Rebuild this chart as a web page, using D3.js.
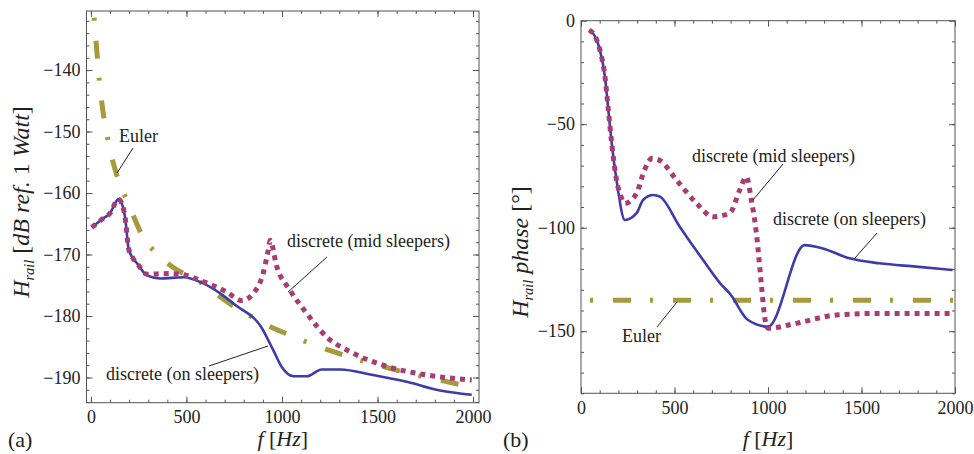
<!DOCTYPE html>
<html lang="en">

<head>
  <meta charset="utf-8">
  <title>Rail transfer function</title>
  <script src="https://d3js.org/d3.v7.min.js" charset="utf-8"></script>
  <style type="text/css">
    body { margin: 0; background: #fff; }
    .frame path, .frame line { stroke: #555; }
  </style>
</head>

<body>

  <svg id="chart"></svg>

  <script type="text/javascript">
    // (a) magnitude, dB
    const eulerMagF = [17, 30, 45, 60, 90, 140, 200, 270, 360, 450, 550, 650, 750, 850, 950, 1050, 1150, 1250, 1400, 1550, 1700, 1850, 2000];
    const eulerMagV = [-131.5, -136.5, -142, -146, -151.5, -157.5, -162, -167, -170.3, -172.5, -174, -176.3, -178.5, -180.3, -181.9, -183.2, -184.5, -185.6, -187.1, -188.4, -189.6, -190.6, -191.6];

    const onMagF = [5, 65, 100, 136, 143, 165, 180, 197, 220, 241, 293, 362, 484, 588, 680, 760, 891, 955, 999, 1060, 1130, 1208, 1304, 1477, 1653, 1827, 1993];
    const onMagV = [-165.6, -164.1, -163.3, -161.2, -161.0, -162.0, -164.2, -169.0, -170.6, -171.4, -173.4, -173.9, -173.7, -174.7, -176.4, -178.3, -181.8, -185.6, -188.3, -189.8, -189.8, -188.7, -188.7, -189.6, -190.7, -192.1, -192.8];

    const midMagF = [5, 65, 100, 136, 143, 165, 180, 197, 220, 241, 293, 415, 500, 572, 711, 790, 850, 902, 928, 938, 973, 1042, 1130, 1234, 1356, 1529, 1757, 1993];
    const midMagV = [-165.6, -164.1, -163.3, -161.2, -161.0, -162.0, -164.2, -169.0, -170.6, -171.4, -173.2, -173.1, -173.4, -174.2, -176.1, -177.5, -176.3, -173.0, -169.3, -167.7, -172.0, -175.8, -179.6, -183.4, -185.8, -188.0, -189.6, -190.4];

    // (b) phase, degrees
    const eulerPhF = [48, 2000];
    const eulerPhV = [-135, -135];

    const onPhF = [44, 84, 101, 128, 146, 164, 190, 235, 297, 332, 386, 422, 528, 653, 760, 795, 893, 1000, 1196, 1293, 1436, 1596, 1792, 1987];
    const onPhV = [-4.5, -9.3, -14.2, -27, -43, -59, -77, -96.3, -93, -86.6, -84.2, -85, -99.5, -115.6, -128.5, -131.7, -144.6, -147.8, -108.4, -110, -114.8, -117.2, -118.8, -120.4];

    const midPhF = [44, 84, 101, 128, 146, 164, 190, 210, 235, 297, 340, 380, 422, 511, 618, 706, 795, 849, 884, 911, 938, 964, 982, 1000, 1151, 1365, 1596, 1987];
    const midPhV = [-4.5, -9.3, -14.2, -27, -43, -59, -77, -84, -88.2, -83.4, -72, -66.5, -67.5, -77, -88.2, -94.7, -93, -81.8, -75.4, -86.6, -102.7, -126.9, -143, -148.6, -146.2, -142.2, -141.4, -141.4];

    const xTicks = [0, 500, 1000, 1500, 2000];
    const magTicks = [-190, -180, -170, -160, -150, -140];
    const phaseTicks = [-150, -100, -50, 0];

    const blue = "#3c3caa", purple = "#a83c74", olive = "#a69a3c";
    const serif = '"Liberation Serif", "Times New Roman", serif';

    const svg = d3.select("#chart").attr("width", 974).attr("height", 454);

    const zip = (fs, vs) => fs.map((f, i) => [f, vs[i]]);
    const fmt = d3.format("d");

    function panel(opt) {
      const x = d3.scaleLinear().domain(opt.xDomain).range([opt.left, opt.right]);
      const y = d3.scaleLinear().domain(opt.yDomain).range([opt.bottom, opt.top]);
      const w = opt.right - opt.left, h = opt.bottom - opt.top;
      const xMinor = d3.range(0, 2001, 100);
      const yMinor = d3.range(Math.ceil(opt.yDomain[0] / opt.yMinorStep) * opt.yMinorStep, opt.yDomain[1], opt.yMinorStep);

      const g = svg.append("g").attr("class", "frame");
      g.append("rect").attr("x", opt.left).attr("y", opt.top).attr("width", w).attr("height", h)
        .attr("fill", "none").attr("stroke", "#555");

      // major ticks with labels (left, bottom)
      g.append("g").attr("transform", `translate(${opt.left},0)`)
        .call(d3.axisLeft(y).tickValues(opt.yTicks).tickSize(-6).tickPadding(6).tickFormat(fmt))
        .call(a => a.select(".domain").remove());
      g.append("g").attr("transform", `translate(0,${opt.bottom})`)
        .call(d3.axisBottom(x).tickValues(xTicks).tickSize(-6).tickPadding(8).tickFormat(fmt))
        .call(a => a.select(".domain").remove());
      // mirrored ticks (right, top)
      g.append("g").attr("transform", `translate(${opt.right},0)`)
        .call(d3.axisRight(y).tickValues(opt.yTicks).tickSize(-6).tickFormat(""))
        .call(a => a.select(".domain").remove());
      g.append("g").attr("transform", `translate(0,${opt.top})`)
        .call(d3.axisTop(x).tickValues(xTicks).tickSize(-6).tickFormat(""))
        .call(a => a.select(".domain").remove());
      // minor ticks
      g.append("g").attr("transform", `translate(${opt.left},0)`)
        .call(d3.axisLeft(y).tickValues(yMinor).tickSize(-3).tickFormat(""))
        .call(a => a.select(".domain").remove());
      g.append("g").attr("transform", `translate(${opt.right},0)`)
        .call(d3.axisRight(y).tickValues(yMinor).tickSize(-3).tickFormat(""))
        .call(a => a.select(".domain").remove());
      g.append("g").attr("transform", `translate(0,${opt.bottom})`)
        .call(d3.axisBottom(x).tickValues(xMinor).tickSize(-3).tickFormat(""))
        .call(a => a.select(".domain").remove());
      g.append("g").attr("transform", `translate(0,${opt.top})`)
        .call(d3.axisTop(x).tickValues(xMinor).tickSize(-3).tickFormat(""))
        .call(a => a.select(".domain").remove());
      g.selectAll(".tick text").attr("font-size", 18);

      svg.append("clipPath").attr("id", opt.id)
        .append("rect").attr("x", opt.left).attr("y", opt.top).attr("width", w).attr("height", h);

      const line = d3.line().x(d => x(d[0])).y(d => y(d[1])).curve(d3.curveMonotoneX);
      const plot = svg.append("g").attr("clip-path", `url(#${opt.id})`);

      plot.append("path").datum(opt.euler).attr("d", line)
        .attr("fill", "none").attr("stroke", olive).attr("stroke-width", 5)
        .attr("stroke-dasharray", "3,20,18,19");
      plot.append("path").datum(opt.on).attr("d", line)
        .attr("fill", "none").attr("stroke", blue).attr("stroke-width", 2.6);
      plot.append("path").datum(opt.mid).attr("d", line)
        .attr("fill", "none").attr("stroke", purple).attr("stroke-width", 5)
        .attr("stroke-dasharray", "5,5");

      // annotations
      opt.notes.forEach(n => {
        svg.append("text").attr("x", n.tx).attr("y", n.ty).attr("font-size", 18).text(n.text);
        svg.append("line").attr("x1", n.l[0]).attr("y1", n.l[1]).attr("x2", n.l[2]).attr("y2", n.l[3])
          .attr("stroke", "#222").attr("stroke-width", 1);
      });

      // x axis title
      const xt = svg.append("text").attr("x", (opt.left + opt.right) / 2).attr("y", 446)
        .attr("text-anchor", "middle").attr("font-size", 22);
      xt.append("tspan").attr("font-style", "italic").text("f");
      xt.append("tspan").text(" [");
      xt.append("tspan").attr("font-style", "italic").text("Hz");
      xt.append("tspan").text("]");

      // y axis title
      const yt = svg.append("text")
        .attr("transform", `translate(${opt.yLabelX},${opt.yLabelY}) rotate(-90)`)
        .attr("text-anchor", "middle").attr("font-size", opt.yLabelSize);
      yt.append("tspan").attr("font-style", "italic").text("H");
      yt.append("tspan").attr("font-style", "italic").attr("font-size", opt.yLabelSize * 0.6).attr("dy", 5).text("rail");
      opt.yLabelParts.forEach((p, i) => {
        const t = yt.append("tspan").attr("font-style", p[1] ? "italic" : "normal").text(p[0]);
        if (i === 0) t.attr("dy", -5);
      });

      svg.append("text").attr("x", opt.tagX).attr("y", 447).attr("font-size", 22).text(opt.tag);
    }

    panel({
      id: "clipA", left: 86.5, right: 479, top: 11, bottom: 402.7,
      xDomain: [-23, 2031], yDomain: [-194.1, -130.4],
      yTicks: magTicks, yMinorStep: 2,
      euler: zip(eulerMagF, eulerMagV), on: zip(onMagF, onMagV), mid: zip(midMagF, midMagV),
      notes: [
        { text: "Euler", tx: 119, ty: 142, l: [133, 148, 117, 173] },
        { text: "discrete (mid sleepers)", tx: 287, ty: 247, l: [327, 257, 288, 292] },
        { text: "discrete (on sleepers)", tx: 106, ty: 380, l: [209, 366, 268, 346] }
      ],
      yLabelX: 29, yLabelY: 202, yLabelSize: 24,
      yLabelParts: [[" [", false], ["dB ref.", true], [" 1 ", false], ["Watt", true], ["]", false]],
      tag: "(a)", tagX: 8
    });

    panel({
      id: "clipB", left: 581, right: 955, top: 20.7, bottom: 393.3,
      xDomain: [0, 2000], yDomain: [-180, 0],
      yTicks: phaseTicks, yMinorStep: 10,
      euler: zip(eulerPhF, eulerPhV), on: zip(onPhF, onPhV), mid: zip(midPhF, midPhV),
      notes: [
        { text: "Euler", tx: 622, ty: 342, l: [657, 327, 677, 302] },
        { text: "discrete (mid sleepers)", tx: 692, ty: 162, l: [783, 164, 753, 200] },
        { text: "discrete (on sleepers)", tx: 773, ty: 225, l: [877, 233, 855, 258] }
      ],
      yLabelX: 528, yLabelY: 252, yLabelSize: 24,
      yLabelParts: [[" phase ", true], ["[°]", false]],
      tag: "(b)", tagX: 503
    });

    // serif everywhere, set inline so nothing overrides it
    svg.selectAll("g").attr("font-family", null);
    svg.selectAll("text").style("font-family", serif).style("fill", "#222");
  </script>
</body>

</html>
